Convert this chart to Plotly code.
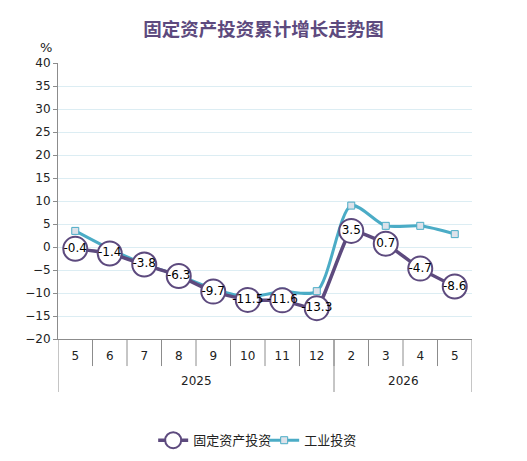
import plotly.graph_objects as go

years = ["2025", "2026"]
year_counts = [8, 4]
months = ["5", "6", "7", "8", "9", "10", "11", "12", "2", "3", "4", "5"]
fixed_asset = [-0.4, -1.4, -3.8, -6.3, -9.7, -11.5, -11.6, -13.3, 3.5, 0.7, -4.7, -8.6]
industrial = [3.5, -0.4, -3.7, -6.2, -9.1, -10.8, -9.7, -9.6, 9.0, 4.6, 4.6, 2.8]

purple = "#5d4a7e"
teal = "#4bacc6"
axis_gray = "#8c8c8c"
font_fam = "DejaVu Sans, Noto Sans CJK SC"

x = list(range(len(months)))

fig = go.Figure()
fig.add_trace(go.Scatter(
    x=x, y=industrial, name="工业投资",
    mode="lines+markers",
    line=dict(color=teal, width=3, shape="spline", smoothing=0.8),
    marker=dict(symbol="square", size=7, color="#dde2ea",
                line=dict(color=teal, width=1)),
))
fig.add_trace(go.Scatter(
    x=x, y=fixed_asset, name="固定资产投资",
    mode="lines+markers+text",
    line=dict(color=purple, width=3.5, shape="spline", smoothing=0.4),
    marker=dict(symbol="circle", size=24, color="white",
                line=dict(color=purple, width=2)),
    text=[str(v) for v in fixed_asset], textposition="middle center",
    textfont=dict(size=12, color="black", family=font_fam),
))

# category separators and year groups under the x axis
shapes = []
for k in range(len(months) - 1):
    shapes.append(dict(type="line", xref="x", yref="paper", x0=k + 0.5, x1=k + 0.5,
                       y0=0, y1=-0.098, line=dict(color=axis_gray, width=1)))
annotations = []
start = 0
edges = [-0.5]
for yr, n in zip(years, year_counts):
    annotations.append(dict(text=yr, xref="x", yref="paper", x=start + (n - 1) / 2,
                            y=-0.152, yanchor="middle", showarrow=False,
                            font=dict(size=12)))
    start += n
    edges.append(start - 0.5)
for e in edges:
    shapes.append(dict(type="line", xref="x", yref="paper", x0=e, x1=e,
                       y0=0, y1=-0.192, line=dict(color=axis_gray, width=1)))
annotations.append(dict(text="%", xref="paper", yref="paper", x=-0.03, y=1.02,
                        xanchor="center", yanchor="bottom", showarrow=False,
                        font=dict(size=13)))

fig.update_layout(
    width=527, height=461,
    margin=dict(l=58, r=55, t=63, b=122),
    paper_bgcolor="white", plot_bgcolor="white",
    font=dict(family=font_fam, size=12, color="#222"),
    title=dict(text="<b>固定资产投资累计增长走势图</b>", x=0.5, xanchor="center",
               y=0.935, yanchor="middle",
               font=dict(size=18.5, color=purple, family="Noto Sans CJK SC")),
    showlegend=True,
    legend=dict(orientation="h", x=0.498, xanchor="center", yref="container",
                y=0.045, yanchor="middle", traceorder="reversed",
                entrywidth=66, entrywidthmode="pixels",
                font=dict(size=13, family="Noto Sans CJK SC")),
    shapes=shapes,
    annotations=annotations,
)
fig.update_yaxes(range=[-20, 40], dtick=5, showgrid=True, gridcolor="#dcedf3",
                 showline=True, linecolor=axis_gray, ticks="outside", ticklen=4,
                 tickcolor=axis_gray, zeroline=False, automargin=False,
                 tickfont=dict(size=12))
fig.update_xaxes(range=[-0.5, len(months) - 0.5], tickvals=x, ticktext=months,
                 showline=True, linecolor=axis_gray, ticks="", showgrid=False,
                 zeroline=False, automargin=False, ticklabelstandoff=6,
                 tickfont=dict(size=12))

fig.write_html("out.html", config={"displayModeBar": False},
               post_script="document.body.style.margin='0';")
